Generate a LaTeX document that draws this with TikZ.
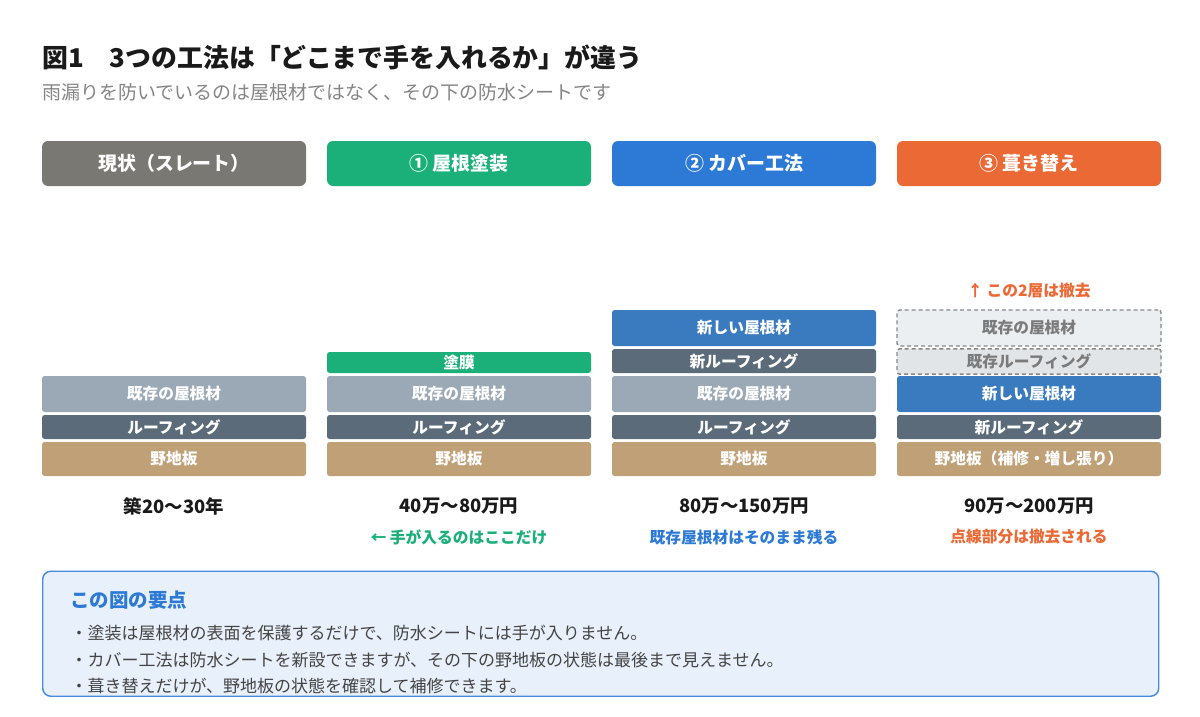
\documentclass[tikz,border=0pt]{standalone}
\usepackage{fontspec}
\setmainfont{Noto Sans CJK JP}
\usetikzlibrary{positioning}
\definecolor{inkdark}{HTML}{1A1A1A}
\definecolor{subgray}{HTML}{858585}
\definecolor{headgray}{HTML}{7A7873}
\definecolor{headgreen}{HTML}{1BAF7A}
\definecolor{headblue}{HTML}{2D7AD6}
\definecolor{headorange}{HTML}{EB6935}
\definecolor{roofgray}{HTML}{9BA8B5}
\definecolor{sheetdark}{HTML}{5B6B7A}
\definecolor{boardtan}{HTML}{C0A077}
\definecolor{roofblue}{HTML}{3A7BC0}
\definecolor{gonefill}{HTML}{ECEFF2}
\definecolor{gonefilltwo}{HTML}{E2E5E8}
\definecolor{goneline}{HTML}{888888}
\definecolor{gonetext}{HTML}{7B7B7B}
\definecolor{notebg}{HTML}{E8F0FB}
\definecolor{noteline}{HTML}{4A8CDB}
\definecolor{notetext}{HTML}{444444}
\newcommand{\pxfont}[1]{\fontsize{#1}{#1}\selectfont}
\tikzset{every picture/.style={line width=0.75pt},
  header/.style={rounded corners=4.5pt, inner sep=0pt, minimum width=198pt, minimum height=33.75pt, text=white, font=\bfseries\pxfont{14.2pt}},
  layer/.style={rounded corners=2pt, inner sep=0pt, minimum width=198pt, text=white, font=\bfseries\pxfont{11.8pt}},
  roofbox/.style={layer, minimum height=27pt},
  sheetbox/.style={layer, minimum height=18pt},
  boardbox/.style={layer, minimum height=25.5pt},
  paintbox/.style={layer, minimum height=15.75pt},
  gonebox/.style={layer, draw=goneline, line width=1.1pt, dash pattern=on 3pt off 2.2pt, text=gonetext},
  price/.style={inner sep=0pt, text=inkdark, font=\bfseries\pxfont{13.8pt}},
  remark/.style={inner sep=0pt, font=\bfseries\pxfont{11.8pt}},
  bullet/.style={inner sep=0pt, anchor=west, text=notetext, font=\pxfont{12.75pt}}
}

\begin{document}
\begin{tikzpicture}[x=0.75pt, y=-0.75pt]
    \path[use as bounding box, fill=white] (0,0) rectangle (1200,717);
    % 見出し
    \node (title) [anchor=west, inner sep=0pt, text=inkdark, font=\bfseries\pxfont{19.4pt}] at (42,57) {図1　3つの工法は「どこまで手を入れるか」が違う};
    \node (subtitle) [anchor=west, inner sep=0pt, text=subgray, font=\pxfont{14.25pt}] at (42,92) {雨漏りを防いでいるのは屋根材ではなく、その下の防水シートです};
    % 工法ラベル
    \node (headnow) [header, fill=headgray] at (174,163.5) {現状（スレート）};
    \node (headpaint) [header, fill=headgreen] at (459,163.5) {① 屋根塗装};
    \node (headcover) [header, fill=headblue] at (744,163.5) {② カバー工法};
    \node (headredo) [header, fill=headorange] at (1029,163.5) {③ 葺き替え};
    % 現状
    \node (nowroof) [roofbox, fill=roofgray] at (174,394) {既存の屋根材};
    \node (nowsheet) [sheetbox, fill=sheetdark] at (174,427) {ルーフィング};
    \node (nowboard) [boardbox, fill=boardtan] at (174,459) {野地板};
    % 屋根塗装
    \node (paintcoat) [paintbox, fill=headgreen] at (459,362.5) {塗膜};
    \node (paintroof) [roofbox, fill=roofgray] at (459,394) {既存の屋根材};
    \node (paintsheet) [sheetbox, fill=sheetdark] at (459,427) {ルーフィング};
    \node (paintboard) [boardbox, fill=boardtan] at (459,459) {野地板};
    % カバー工法
    \node (covernewroof) [roofbox, fill=roofblue] at (744,328) {新しい屋根材};
    \node (covernewsheet) [sheetbox, fill=sheetdark] at (744,361) {新ルーフィング};
    \node (coverroof) [roofbox, fill=roofgray] at (744,394) {既存の屋根材};
    \node (coversheet) [sheetbox, fill=sheetdark] at (744,427) {ルーフィング};
    \node (coverboard) [boardbox, fill=boardtan] at (744,459) {野地板};
    % 葺き替え
    \node (redonote) [remark, text=headorange] at (1029,291) {↑ この2層は撤去};
    \node (redooldroof) [gonebox, fill=gonefill, minimum height=27pt] at (1029,328) {既存の屋根材};
    \node (redooldsheet) [gonebox, fill=gonefilltwo, minimum height=19pt] at (1029,361.5) {既存ルーフィング};
    \node (redoroof) [roofbox, fill=roofblue] at (1029,394) {新しい屋根材};
    \node (redosheet) [sheetbox, fill=sheetdark] at (1029,427) {新ルーフィング};
    \node (redoboard) [boardbox, fill=boardtan] at (1029,459) {野地板（補修・増し張り）};
    % 費用と補足
    \node (nowage) [price] at (174,506) {築20〜30年};
    \node (paintcost) [price] at (459,506) {40万〜80万円};
    \node (covercost) [price] at (744,506) {80万〜150万円};
    \node (redocost) [price] at (1029,506) {90万〜200万円};
    \node (paintremark) [remark, text=headgreen] at (459,537) {← 手が入るのはここだけ};
    \node (coverremark) [remark, text=headblue] at (744,537) {既存屋根材はそのまま残る};
    \node (redoremark) [remark, text=headorange] at (1029,537) {点線部分は撤去される};
    % 要点
    \node (keybox) [anchor=north west, draw=noteline, line width=1.1pt, fill=notebg, rounded corners=6pt, minimum width=837pt, minimum height=93.75pt] at (42,570.5) {};
    \node (keytitle) [anchor=west, inner sep=0pt, text=headblue, font=\bfseries\pxfont{14.6pt}] at (70,600) {この図の要点};
    \node (keyone) [bullet] at (70,633) {・塗装は屋根材の表面を保護するだけで、防水シートには手が入りません。};
    \node (keytwo) [bullet] at (70,660) {・カバー工法は防水シートを新設できますが、その下の野地板の状態は最後まで見えません。};
    \node (keythree) [bullet] at (70,686) {・葺き替えだけが、野地板の状態を確認して補修できます。};
\end{tikzpicture}
\end{document}
